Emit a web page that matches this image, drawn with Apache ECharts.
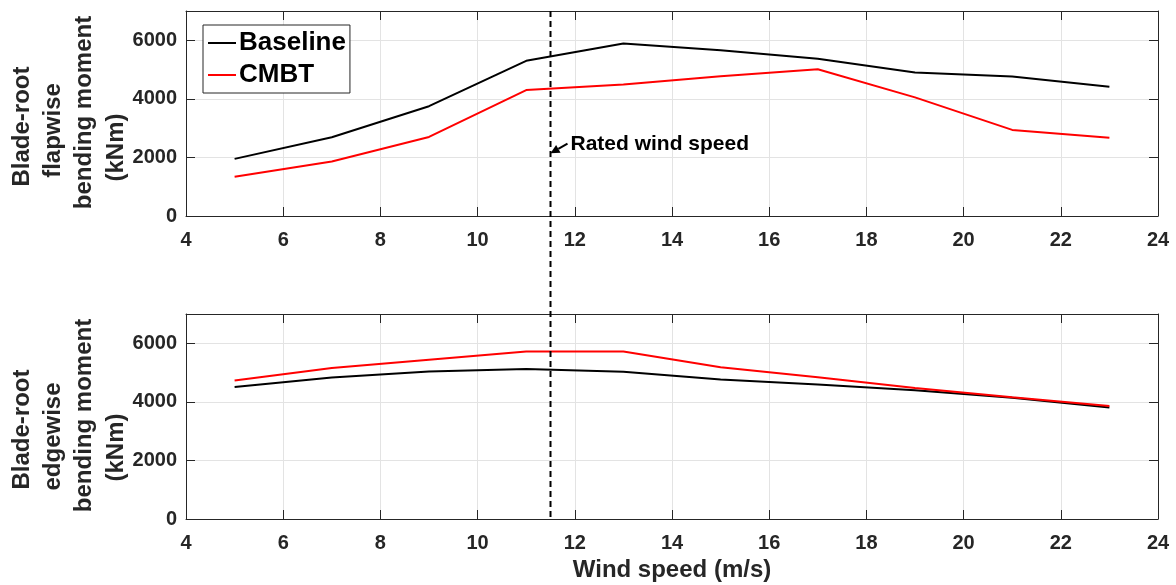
<!DOCTYPE html>
<html>
<head>
<meta charset="utf-8">
<script src="https://cdn.jsdelivr.net/npm/echarts@6/dist/echarts.min.js"></script>
<style>
  html, body { margin: 0; padding: 0; background: #ffffff; }
  #chart { width: 1176px; height: 585px; }
</style>
</head>
<body>
<div id="chart"></div>
<script>
// Wind speeds (m/s) at which the blade-root loads were evaluated
const windSpeeds = [5, 7, 9, 11, 13, 15, 17, 19, 21, 23];

// Blade-root flapwise bending moment (kNm)
const flapBaseline = [1950, 2690, 3750, 5300, 5890, 5660, 5370, 4900, 4760, 4410];
const flapCMBT     = [1340, 1860, 2700, 4300, 4490, 4770, 5010, 4050, 2940, 2670];

// Blade-root edgewise bending moment (kNm)
const edgeBaseline = [4510, 4830, 5040, 5120, 5030, 4760, 4590, 4400, 4140, 3810];
const edgeCMBT     = [4730, 5160, 5440, 5720, 5720, 5180, 4840, 4470, 4160, 3860];

// Axis ranges and tick steps
const xRange = [4, 24];
const xStep = 2;
const yRange = [0, 7000];
const yStep = 2000;

// Rated wind speed marker and its annotation
const ratedSpeed = 11.5;
const ratedLabel = 'Rated wind speed';
const arrowTip = [11.5, 2140];
const arrowTail = [11.85, 2470];

const seriesNames = ['Baseline', 'CMBT'];

const FONT = "'Liberation Sans', Arial, Helvetica, sans-serif";
const AXIS_COLOR = '#262626';
const GRID_COLOR = '#e3e3e3';

const pairs = ys => windSpeeds.map((x, i) => [x, ys[i]]);

const chart = echarts.init(document.getElementById('chart'), null, { renderer: 'canvas' });

const grids = [
  { left: 186, top: 11, width: 972, height: 205 },
  { left: 186, top: 314, width: 972, height: 205 }
];

function xAxisFor(gridIndex, position, withLabels, name) {
  return {
    type: 'value', gridIndex, position,
    min: xRange[0], max: xRange[1], interval: xStep,
    name: name || '',
    nameLocation: 'middle', nameGap: 39,
    nameTextStyle: { fontFamily: FONT, fontWeight: 'bold', fontSize: 24, color: AXIS_COLOR },
    axisLine: { show: true, onZero: false, lineStyle: { color: AXIS_COLOR, width: 1 } },
    axisTick: { show: true, inside: true, length: 9, lineStyle: { color: AXIS_COLOR, width: 1 } },
    axisLabel: {
      show: withLabels, margin: 14,
      fontFamily: FONT, fontWeight: 'bold', fontSize: 20, color: AXIS_COLOR
    },
    splitLine: { show: position === 'bottom', lineStyle: { color: GRID_COLOR, width: 1 } }
  };
}

function yAxisFor(gridIndex, position, withLabels) {
  return {
    type: 'value', gridIndex, position,
    min: yRange[0], max: yRange[1], interval: yStep,
    axisLine: { show: true, onZero: false, lineStyle: { color: AXIS_COLOR, width: 1 } },
    axisTick: { show: true, inside: true, length: 9, lineStyle: { color: AXIS_COLOR, width: 1 } },
    axisLabel: {
      show: withLabels, margin: 9, showMaxLabel: false,
      fontFamily: FONT, fontWeight: 'bold', fontSize: 20, color: AXIS_COLOR,
      formatter: v => (v % yStep === 0 ? String(v) : '')
    },
    splitLine: { show: position === 'left', lineStyle: { color: GRID_COLOR, width: 1 } }
  };
}

function lineSeries(name, ys, color, axisIndex) {
  return {
    name, type: 'line', data: pairs(ys),
    xAxisIndex: axisIndex, yAxisIndex: axisIndex,
    symbol: 'none', showSymbol: false,
    lineStyle: { color, width: 2 },
    itemStyle: { color },
    z: 5, silent: true
  };
}

const option = {
  animation: false,
  backgroundColor: '#ffffff',
  grid: grids,
  xAxis: [
    xAxisFor(0, 'bottom', true),
    xAxisFor(1, 'bottom', true, 'Wind speed (m/s)'),
    xAxisFor(0, 'top', false),
    xAxisFor(1, 'top', false)
  ],
  yAxis: [
    yAxisFor(0, 'left', true),
    yAxisFor(1, 'left', true),
    yAxisFor(0, 'right', false),
    yAxisFor(1, 'right', false)
  ],
  legend: {
    data: seriesNames,
    orient: 'vertical',
    left: 203, top: 25,
    padding: [4, 4, 4, 5],
    itemGap: 4,
    icon: 'rect',
    itemWidth: 28, itemHeight: 2,
    backgroundColor: '#ffffff',
    borderColor: AXIS_COLOR, borderWidth: 1, borderRadius: 0,
    selectedMode: false,
    textStyle: { fontFamily: FONT, fontWeight: 'bold', fontSize: 26, lineHeight: 28, color: '#000000', padding: [0, 0, 0, -2] }
  },
  series: [
    lineSeries('Baseline', flapBaseline, '#000000', 0),
    lineSeries('CMBT', flapCMBT, '#ff0000', 0),
    lineSeries('Baseline', edgeBaseline, '#000000', 1),
    lineSeries('CMBT', edgeCMBT, '#ff0000', 1)
  ]
};

chart.setOption(option);

// Rotated, multi-line y-axis titles, one text per line
function yTitle(lines, centerY, offsets) {
  const xs = [22, 53, 84, 116];
  return lines.map((t, i) => ({
    type: 'text',
    x: xs[i], y: centerY + offsets[i],
    rotation: Math.PI / 2,
    style: {
      text: t, fontFamily: FONT, fontWeight: 'bold', fontSize: 24,
      fill: AXIS_COLOR, align: 'center', verticalAlign: 'middle'
    }
  }));
}

function drawOverlays() {
  const px = (xi, yi, v) => chart.convertToPixel({ xAxisIndex: xi, yAxisIndex: yi }, v);
  const top = px(0, 0, [ratedSpeed, yRange[1]]);
  const bottom = px(1, 1, [ratedSpeed, yRange[0]]);
  const tip = px(0, 0, arrowTip);
  const tail = px(0, 0, arrowTail);

  // arrowhead geometry
  const ang = Math.atan2(tip[1] - tail[1], tip[0] - tail[0]);
  const hl = 9, hw = 4.5;
  const bx = tip[0] - hl * Math.cos(ang), by = tip[1] - hl * Math.sin(ang);
  const nx = -Math.sin(ang) * hw, ny = Math.cos(ang) * hw;

  const mid0 = grids[0].top + grids[0].height / 2;
  const mid1 = grids[1].top + grids[1].height / 2;

  chart.setOption({
    graphic: [
      {
        type: 'line', z: 20, silent: true,
        shape: { x1: top[0], y1: top[1], x2: bottom[0], y2: bottom[1] },
        style: { stroke: '#000000', lineWidth: 2, lineDash: [6, 4] }
      },
      {
        type: 'line', z: 20, silent: true,
        shape: { x1: tail[0], y1: tail[1], x2: bx, y2: by },
        style: { stroke: '#000000', lineWidth: 2 }
      },
      {
        type: 'polygon', z: 20, silent: true,
        shape: { points: [[tip[0], tip[1]], [bx + nx, by + ny], [bx - nx, by - ny]] },
        style: { fill: '#000000' }
      },
      {
        type: 'text', z: 20, silent: true,
        x: tail[0] + 3, y: tail[1] + 1,
        style: {
          text: ratedLabel, fontFamily: FONT, fontWeight: 'bold', fontSize: 21,
          fill: '#000000', align: 'left', verticalAlign: 'middle'
        }
      },
      ...yTitle(['Blade-root', 'flapwise', 'bending moment', '(kNm)'], mid0, [13, 17, -1, 34]),
      ...yTitle(['Blade-root', 'edgewise', 'bending moment', '(kNm)'], mid1, [13, 20, -1, 31])
    ]
  });
}

drawOverlays();
</script>
</body>
</html>
